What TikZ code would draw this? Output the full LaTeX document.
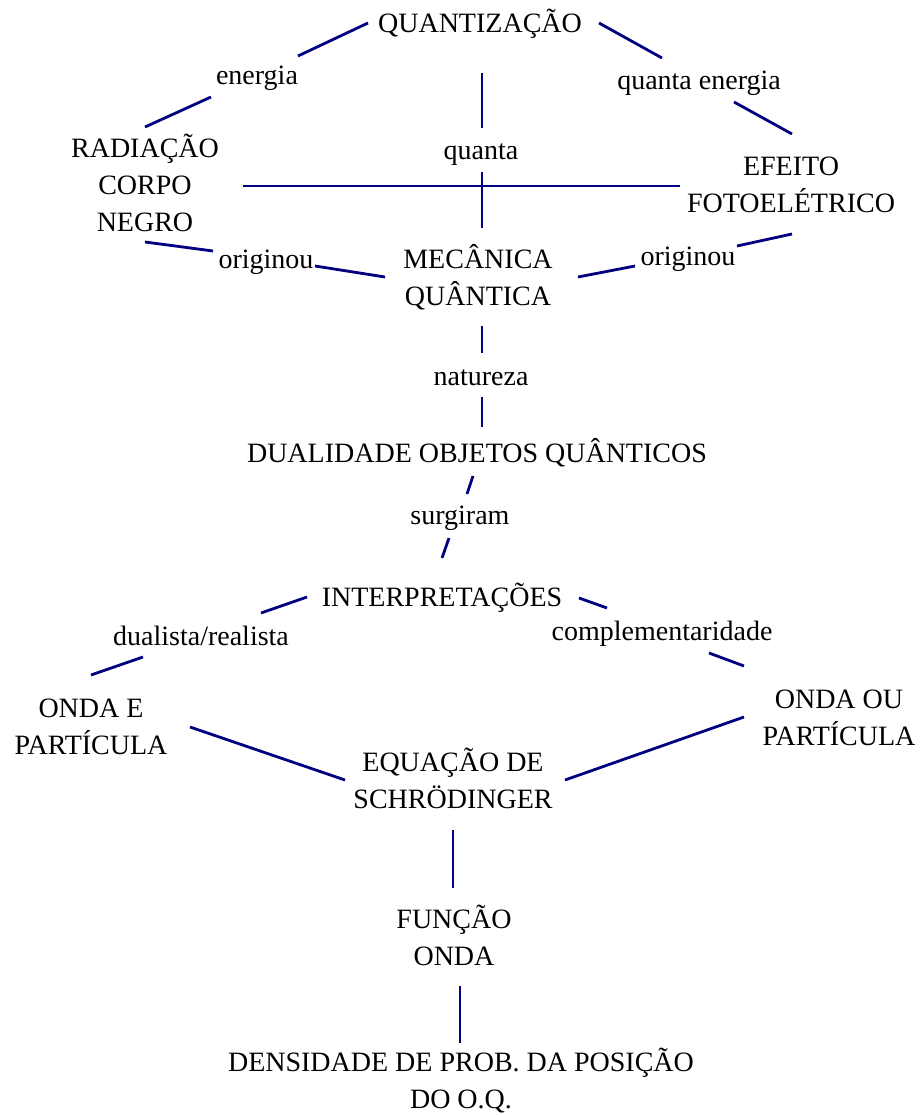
\documentclass[tikz,border=0pt]{standalone}
\usepackage{fontspec}
\setmainfont{Liberation Serif}
\usetikzlibrary{calc}
\definecolor{linkblue}{RGB}{0,0,128}
\begin{document}
\begin{tikzpicture}[x=1pt,y=-1pt,
  concept/.style={anchor=base,inner sep=0pt,align=center,
    font=\fontsize{28}{37}\selectfont},
  link/.style={draw=linkblue,line width=2.8pt}]
\useasboundingbox (0,0) rectangle (920,1115);

% concepts and linking words (placed by the baseline of their last line)
\node[concept] (qz)     at (480,33)   {QUANTIZAÇÃO};
\node[concept] (en)     at (257,85)   {energia};
\node[concept] (qe)     at (699,90)   {quanta energia};
\node[concept] (qa)     at (481,160)  {quanta};
\node[concept] (rc)     at (145,232)  {RADIAÇÃO\\CORPO\\NEGRO};
\node[concept] (ef)     at (791,213)  {EFEITO\\FOTOELÉTRICO};
\node[concept] (o1)     at (266,268)  {originou};
\node[concept] (o2)     at (688,265)  {originou};
\node[concept] (mq)     at (478,305)  {MECÂNICA\\QUÂNTICA};
\node[concept] (nat)    at (481,385)  {natureza};
\node[concept] (dual)   at (477,462)  {DUALIDADE OBJETOS QUÂNTICOS};
\node[concept] (surg)   at (460,524)  {surgiram};
\node[concept] (interp) at (442,606)  {INTERPRETAÇÕES};
\node[concept] (dr)     at (201,645)  {dualista/realista};
\node[concept] (comp)   at (662,640)  {complementaridade};
\node[concept] (oe)     at (91,754)   {ONDA E\\PARTÍCULA};
\node[concept] (oo)     at (839,745)  {ONDA OU\\PARTÍCULA};
\node[concept] (eq)     at (453,808)  {EQUAÇÃO DE\\SCHRÖDINGER};
\node[concept] (fo)     at (454,965)  {FUNÇÃO\\ONDA};
\node[concept] (dens)   at (461,1108) {DENSIDADE DE PROB. DA POSIÇÃO\\DO O.Q.};

% connectors
\draw[link] ($(qz.base)+(-112,-10)$) -- ($(en.base)+(41,-29)$);
\draw[link] ($(en.base)+(-46,12)$)   -- ($(rc.base)+(0,-105)$);
\draw[link] ($(qz.base)+(119,-10)$)  -- ($(qe.base)+(-37,-32)$);
\draw[link] ($(qe.base)+(35,12)$)    -- ($(ef.base)+(1,-79)$);
\draw[link] ($(qz.base)+(2,40)$)     -- ($(qa.base)+(1,-32)$);
\draw[link] ($(qa.base)+(1,12)$)     -- ($(mq.base)+(4,-77)$);
\draw[link] ($(rc.base)+(98,-46)$)   -- ($(ef.base)+(-111,-27)$);
\draw[link] ($(rc.base)+(0,10)$)     -- ($(o1.base)+(-53,-17)$);
\draw[link] ($(o1.base)+(49,-2)$)    -- ($(mq.base)+(-93,-28)$);
\draw[link] ($(ef.base)+(1,21)$)     -- ($(o2.base)+(49,-19)$);
\draw[link] ($(o2.base)+(-53,1)$)    -- ($(mq.base)+(100,-28)$);
\draw[link] ($(mq.base)+(4,21)$)     -- ($(nat.base)+(1,-32)$);
\draw[link] ($(nat.base)+(1,12)$)    -- ($(dual.base)+(5,-35)$);
\draw[link] ($(dual.base)+(-4,14)$)  -- ($(surg.base)+(7,-30)$);
\draw[link] ($(surg.base)+(-11,14)$) -- ($(interp.base)+(0,-48)$);
\draw[link] ($(interp.base)+(-135,-9)$) -- ($(dr.base)+(60,-32)$);
\draw[link] ($(interp.base)+(137,-8)$)  -- ($(comp.base)+(-55,-32)$);
\draw[link] ($(dr.base)+(-58,12)$)   -- ($(oe.base)+(0,-79)$);
\draw[link] ($(comp.base)+(47,13)$)  -- ($(oo.base)+(-95,-79)$);
\draw[link] ($(oe.base)+(99,-27)$)   -- ($(eq.base)+(-108,-28)$);
\draw[link] ($(oo.base)+(-95,-28)$)  -- ($(eq.base)+(112,-28)$);
\draw[link] ($(eq.base)+(0,22)$)     -- ($(fo.base)+(-1,-77)$);
\draw[link] ($(fo.base)+(6,21)$)     -- ($(dens.base)+(-1,-65)$);
\end{tikzpicture}
\end{document}
